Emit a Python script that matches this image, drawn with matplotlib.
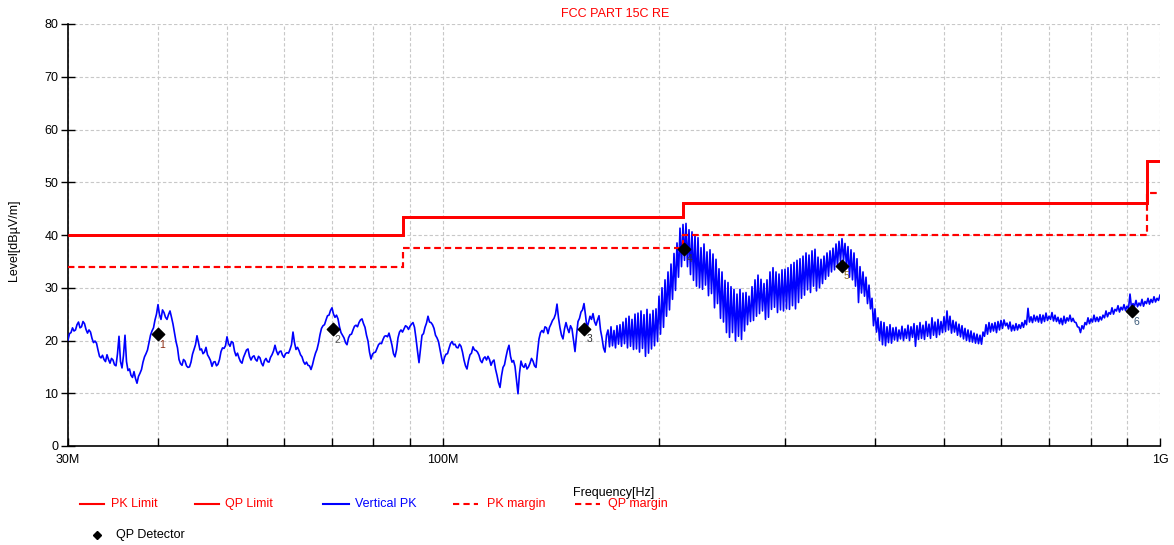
import numpy as np
import matplotlib
matplotlib.use("Agg")
import matplotlib.pyplot as plt
from matplotlib.lines import Line2D
from matplotlib.ticker import FixedLocator, NullFormatter

plt.rcParams['font.family'] = ['Liberation Sans', 'DejaVu Sans']

# limit lines (step edges in Hz, levels in dBuV/m)
limit_edges = [30e6, 88e6, 216e6, 960e6, 1000e6]
pk_limit = [40, 43.5, 46, 54]
qp_limit = [40, 43.5, 46, 54]
pk_margin = [34, 37.5, 40, 48]
qp_margin = [34, 37.5, 40, 48]

# Vertical PK sweep, levels (log-spaced sweep 30M..1G)
vertical_pk = [
    20.1, 21.3, 21.5, 22.4, 21.8, 22.0, 23.0, 23.5, 22.4, 22.6, 23.6, 23.2, 22.1, 21.4, 22.0, 21.6, 20.4, 19.6, 19.9, 19.5,
    18.2, 17.0, 16.7, 17.2, 16.4, 16.0, 17.3, 16.4, 15.7, 16.6, 16.3, 15.4, 15.2, 17.5, 20.8, 16.0, 14.8, 17.2, 21.0, 16.0,
    14.3, 14.6, 13.4, 13.0, 14.1, 12.8, 11.9, 13.2, 13.8, 14.5, 15.9, 16.9, 17.5, 18.2, 19.6, 21.0, 21.8, 22.4, 23.9, 25.0,
    26.8, 24.9, 24.0, 25.8, 25.3, 24.4, 24.0, 24.9, 25.6, 24.4, 23.1, 21.5, 19.8, 18.6, 16.4, 15.6, 15.3, 16.4, 16.1, 15.2,
    14.9, 15.0, 15.9, 17.4, 18.3, 19.2, 20.9, 19.6, 18.2, 18.4, 17.5, 17.8, 18.7, 17.3, 16.8, 16.2, 15.1, 15.9, 16.0, 15.2,
    15.5, 16.4, 17.9, 18.6, 18.5, 19.0, 20.7, 19.4, 18.9, 19.8, 19.6, 18.0, 17.1, 17.6, 16.7, 16.0, 15.7, 16.8, 17.5, 18.2,
    18.4, 17.0, 16.3, 16.9, 17.1, 16.4, 16.1, 17.0, 16.7, 15.7, 15.2, 16.2, 16.6, 16.0, 15.9, 16.8, 17.3, 18.0, 19.1, 18.0,
    17.3, 17.9, 18.0, 17.2, 16.8, 17.5, 17.7, 17.6, 18.3, 19.2, 21.6, 19.6, 18.3, 18.7, 18.1, 17.3, 16.9, 16.0, 15.5, 15.9,
    15.3, 15.2, 14.5, 15.4, 16.6, 17.6, 18.3, 19.5, 21.1, 22.3, 22.8, 23.0, 23.9, 24.7, 24.8, 25.7, 26.2, 25.0, 24.4, 24.8,
    24.1, 22.6, 21.5, 21.0, 20.5, 19.6, 19.2, 20.5, 21.1, 21.2, 22.0, 22.7, 22.9, 22.6, 23.4, 23.9, 24.1, 23.2, 22.5, 21.0,
    19.9, 17.8, 16.5, 17.4, 17.7, 17.8, 18.5, 19.2, 19.5, 19.4, 20.2, 20.8, 20.9, 20.7, 21.4, 20.3, 19.1, 17.5, 16.9, 18.2,
    20.5, 21.6, 22.0, 21.6, 22.2, 22.8, 22.6, 22.1, 22.7, 23.1, 23.4, 22.5, 20.4, 18.0, 15.8, 18.5, 21.0, 21.3, 22.5, 23.3,
    24.6, 23.5, 23.4, 23.0, 22.3, 21.0, 20.5, 19.8, 18.3, 16.8, 15.6, 16.8, 17.4, 17.5, 18.5, 19.4, 19.8, 19.2, 19.3, 18.7,
    18.6, 19.3, 18.9, 17.8, 16.3, 15.2, 14.6, 16.2, 17.3, 17.6, 18.8, 18.2, 18.1, 17.8, 17.2, 16.2, 15.8, 16.6, 16.9, 16.3,
    17.0, 16.4, 15.3, 16.0, 16.3, 14.6, 13.4, 12.0, 11.1, 13.3, 14.9, 15.4, 16.9, 18.2, 19.1, 17.0, 15.9, 16.2, 15.1, 12.5,
    9.9, 13.8, 16.1, 15.2, 14.9, 15.6, 14.6, 15.0, 15.7, 16.6, 16.1, 15.2, 14.9, 17.8, 20.3, 21.5, 21.9, 21.5, 22.6, 22.4,
    21.3, 22.5, 23.1, 23.8, 24.2, 25.0, 26.9, 24.3, 22.4, 21.0, 20.3, 22.2, 23.4, 22.3, 21.5, 22.8, 22.2, 20.0, 17.9, 21.0,
    23.6, 24.2, 25.4, 25.8, 27.0, 24.8, 22.4, 23.4, 24.6, 24.0, 25.1, 23.6, 22.9, 23.9, 24.7, 22.0, 20.5, 18.6, 17.8, 21.0,
    22.0, 18.8, 22.6, 19.0, 21.9, 18.6, 22.8, 19.3, 23.0, 18.9, 23.5, 19.4, 24.2, 18.6, 24.6, 18.9, 24.0, 18.3, 25.0, 18.4,
    25.2, 17.8, 25.6, 18.5, 24.9, 17.0, 25.9, 17.6, 25.0, 18.4, 25.7, 19.0, 26.0, 19.8, 28.4, 21.2, 30.0, 22.5, 31.5, 24.6,
    33.0, 25.8, 34.5, 27.8, 36.5, 29.5, 38.5, 32.0, 41.3, 34.0, 42.0, 35.2, 42.2, 34.0, 41.0, 32.5, 40.6, 31.4, 40.0, 30.3,
    39.5, 30.0, 37.6, 29.7, 38.3, 30.5, 36.8, 28.5, 37.2, 28.9, 36.4, 26.2, 35.4, 27.0, 33.6, 24.2, 33.0, 23.5, 31.4, 21.5,
    31.0, 20.6, 30.2, 21.5, 29.7, 19.9, 28.8, 20.8, 29.7, 20.2, 29.0, 21.8, 29.1, 23.0, 28.4, 23.6, 30.2, 23.8, 31.5, 24.6,
    32.4, 25.1, 31.6, 25.6, 30.8, 24.0, 31.5, 24.4, 33.0, 25.9, 33.8, 26.3, 33.0, 25.3, 32.6, 25.8, 33.4, 25.6, 33.5, 26.0,
    33.8, 25.9, 34.4, 26.6, 34.8, 26.0, 35.2, 27.2, 35.5, 28.0, 36.0, 28.6, 36.6, 29.6, 36.2, 29.1, 37.0, 30.3, 37.3, 29.4,
    35.8, 30.0, 35.4, 30.8, 36.0, 31.6, 36.6, 32.2, 37.0, 33.0, 37.5, 33.4, 38.3, 34.2, 38.8, 35.0, 39.3, 35.2, 38.4, 34.0,
    37.8, 32.0, 37.2, 31.5, 36.6, 30.3, 35.5, 27.2, 34.0, 29.0, 33.0, 28.4, 32.0, 27.0, 30.5, 26.0, 28.0, 22.8, 26.0, 21.6,
    24.3, 20.0, 23.6, 19.2, 23.4, 19.0, 22.6, 19.6, 23.0, 19.5, 22.4, 20.1, 22.5, 19.9, 22.0, 20.3, 22.7, 20.0, 22.2, 20.4,
    22.9, 20.0, 22.6, 20.6, 23.2, 18.9, 22.8, 20.2, 23.4, 20.4, 22.9, 20.2, 23.6, 20.8, 23.1, 20.4, 24.3, 21.0, 23.5, 20.6,
    24.0, 21.1, 23.6, 21.5, 24.5, 21.7, 25.6, 22.0, 24.6, 21.4, 23.8, 21.6, 23.5, 21.0, 23.1, 20.7, 22.8, 20.3, 22.3, 20.0,
    22.0, 19.8, 21.8, 19.7, 21.4, 19.5, 21.2, 19.4, 21.0, 19.3, 21.6, 20.8, 23.0, 21.2, 23.4, 21.6, 23.2, 21.8, 23.4, 21.5,
    23.6, 22.0, 23.8, 22.3, 23.9, 22.8, 23.3, 22.2, 23.5, 21.8, 22.9, 21.9, 23.2, 22.0, 23.0, 22.3, 23.4, 22.5, 23.8, 23.0,
    26.1, 23.5, 24.5, 23.4, 24.8, 23.7, 24.6, 23.5, 24.9, 23.3, 24.8, 23.6, 25.2, 23.8, 24.6, 24.0, 25.3, 23.7, 24.8, 23.6,
    24.4, 23.2, 24.2, 23.0, 24.6, 23.3, 24.3, 23.7, 24.8, 23.6, 24.2, 23.5, 23.4, 22.6, 22.5, 21.5, 22.8, 22.2, 23.4, 23.0,
    24.3, 23.2, 24.1, 23.5, 24.8, 23.6, 24.4, 23.6, 24.5, 23.9, 24.8, 24.3, 25.6, 24.5, 25.3, 25.0, 26.2, 25.0, 25.9, 25.6,
    26.6, 25.4, 26.3, 25.8, 26.8, 25.7, 26.5, 26.0, 28.8, 26.2, 27.0, 26.5, 27.6, 26.4, 27.1, 26.6, 27.8, 26.5, 27.4, 27.0,
    28.0, 26.9, 27.8, 27.2, 28.3, 27.3, 28.0, 27.6, 28.6,
]
sweep_freq = np.geomspace(30e6, 1e9, len(vertical_pk))

# QP detector readings
qp_freq = [40.0e6, 70.2e6, 157.4e6, 217.0e6, 360.0e6, 913.0e6]
qp_level = [21.2, 22.1, 22.2, 37.4, 34.2, 25.5]
qp_labels = ['1', '2', '3', '4', '5', '6']
label_colors = ['#8b2a10', '#555555', '#333333', '#333333', '#8b6a20', '#3a5a7a']

fig = plt.figure(figsize=(11.74, 5.45), dpi=100)
ax = fig.add_axes([68/1174, 1-446/545, (1160-68)/1174, (446-24)/545])

ax.plot(sweep_freq, vertical_pk, color='#0000ff', lw=1.2, zorder=3)
ax.stairs(qp_margin, limit_edges, color='#ff0000', lw=1.5, ls=(0, (3, 2)), baseline=None, zorder=4)
ax.stairs(pk_margin, limit_edges, color='#ff0000', lw=1.5, ls=(0, (3, 2)), baseline=None, zorder=4)
ax.stairs(qp_limit, limit_edges, color='#ff0000', lw=2, baseline=None, zorder=4)
ax.stairs(pk_limit, limit_edges, color='#ff0000', lw=2, baseline=None, zorder=4)

ax.scatter(qp_freq, qp_level, marker='D', s=40, color='black', zorder=5)
for f, lv, lab, c in zip(qp_freq, qp_level, qp_labels, label_colors):
    ax.annotate(lab, (f, lv), xytext=(1.5, -7.5), textcoords='offset points',
                fontsize=7.5, color=c, ha='left', va='center', zorder=6)

ax.set_xscale('log')
ax.set_xlim(30e6, 1e9)
ax.set_ylim(0, 80)
ax.xaxis.set_major_locator(FixedLocator([30e6, 100e6, 1e9]))
ax.set_xticklabels(['30M', '100M', '1G'])
minor = [f * 1e6 for f in [40, 50, 60, 70, 80, 90, 200, 300, 400, 500, 600, 700, 800, 900]]
ax.xaxis.set_minor_locator(FixedLocator(minor))
ax.xaxis.set_minor_formatter(NullFormatter())
ax.set_yticks(range(0, 81, 10))

ax.grid(True, which='both', color='#c8c8c8', ls=(0, (3, 2)), lw=0.8)
ax.tick_params(axis='x', which='both', direction='in', length=6, width=1, labelsize=9, pad=6)
ax.tick_params(axis='y', direction='inout', length=10, width=1, labelsize=9, pad=2)
for s in ['top', 'right']:
    ax.spines[s].set_visible(False)
for s in ['left', 'bottom']:
    ax.spines[s].set_linewidth(1.2)

fig.text(615/1174, 1-14/545, 'FCC PART 15C RE', color='#ff0000', fontsize=9, ha='center', va='center')
fig.text(14/1174, 1-240/545, 'Level[dB\u00b5V/m]', rotation=90, fontsize=9, ha='center', va='center')
fig.text(614/1174, 1-493/545, 'Frequency[Hz]', fontsize=9, ha='center', va='center')

# legend drawn by hand below the axes
def legend_item(x0, x1, tx, y, label, color, ls, tcolor):
    yf = 1 - y/545
    fig.add_artist(Line2D([x0/1174, x1/1174], [yf, yf], color=color, ls=ls, lw=1.5))
    fig.text(tx/1174, yf, label, color=tcolor, fontsize=9, ha='left', va='center')

legend_item(80, 104, 111, 504, 'PK Limit', '#ff0000', '-', '#ff0000')
legend_item(195, 219, 225, 504, 'QP Limit', '#ff0000', '-', '#ff0000')
legend_item(323, 349, 355, 504, 'Vertical PK', '#0000ff', '-', '#0000ff')
legend_item(453, 478, 487, 504, 'PK margin', '#ff0000', (0, (3, 2)), '#ff0000')
legend_item(575, 600, 608, 504, 'QP margin', '#ff0000', (0, (3, 2)), '#ff0000')
fig.add_artist(Line2D([97/1174], [1-535/545], marker='D', markersize=4, color='black', ls='none'))
fig.text(116/1174, 1-535/545, 'QP Detector', color='black', fontsize=9, ha='left', va='center')

fig.savefig('out.png', dpi=100)
